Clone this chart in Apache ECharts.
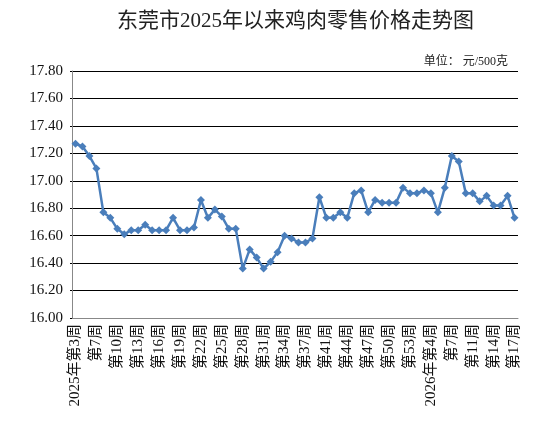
<!DOCTYPE html>
<html><head><meta charset="utf-8">
<script src="https://cdn.jsdelivr.net/npm/echarts@6/dist/echarts.min.js"></script>
<style>html,body{margin:0;padding:0;background:#fff}#c{width:550px;height:430px}</style>
</head><body><div id="c"></div>
<script>
var categories = ["2025年第3周","第4周","第6周","第7周","第8周","第9周","第10周","第11周","第12周","第13周","第14周","第15周","第16周","第17周","第18周","第19周","第20周","第21周","第22周","第23周","第24周","第25周","第26周","第27周","第28周","第29周","第30周","第31周","第32周","第33周","第34周","第35周","第36周","第37周","第38周","第39周","第41周","第42周","第43周","第44周","第45周","第46周","第47周","第48周","第49周","第50周","第51周","第52周","第53周","2026年第2周","第3周","2026年第4周","第5周","第6周","第7周","第9周","第10周","第11周","第12周","第13周","第14周","第15周","第16周","第17周"];
var prices = [17.27,17.25,17.18,17.09,16.77,16.73,16.65,16.61,16.64,16.64,16.68,16.64,16.64,16.64,16.73,16.64,16.64,16.66,16.86,16.73,16.79,16.74,16.65,16.65,16.36,16.50,16.44,16.36,16.41,16.48,16.60,16.58,16.55,16.55,16.58,16.88,16.73,16.73,16.77,16.73,16.91,16.93,16.77,16.86,16.84,16.84,16.84,16.95,16.91,16.91,16.93,16.91,16.77,16.95,17.18,17.14,16.91,16.91,16.85,16.89,16.82,16.82,16.89,16.73];
var titleText = "东莞市2025年以来鸡肉零售价格走势图";
var unitText = "单位： 元/500克";
var serif = '"Liberation Serif","Noto Sans CJK SC",serif';
var chart = echarts.init(document.getElementById('c'));
chart.setOption({
  animation:false,
  backgroundColor:'#fff',
  title:[{text:titleText,left:112,top:6,textStyle:{fontFamily:serif,fontSize:21,fontWeight:'normal',color:'#222'}},
         {text:unitText,right:37,top:51,textStyle:{fontFamily:serif,fontSize:12,fontWeight:'normal',color:'#222'}}],
  grid:{left:72,right:32,top:71,bottom:112},
  xAxis:{type:'category',data:categories,boundaryGap:true,
    axisLine:{lineStyle:{color:'#888',width:1}},axisTick:{show:false},
    axisLabel:{interval:2,rotate:90,fontFamily:serif,fontSize:15,color:'#111',margin:6}},
  yAxis:{type:'value',min:16,max:17.8,interval:0.2,
    axisLine:{show:true,lineStyle:{color:'#888'}},axisTick:{show:true,length:2,lineStyle:{color:'#000'}},
    splitLine:{lineStyle:{color:'#000',width:1}},
    axisLabel:{formatter:function(v){return v.toFixed(2);},fontFamily:serif,fontSize:15,color:'#111',margin:9}},
  series:[{type:'line',data:prices,symbol:'diamond',symbolSize:8,showAllSymbol:true,
    lineStyle:{color:'#4A7EBB',width:2.5},itemStyle:{color:'#4A7EBB'}}]
});
</script></body></html>
